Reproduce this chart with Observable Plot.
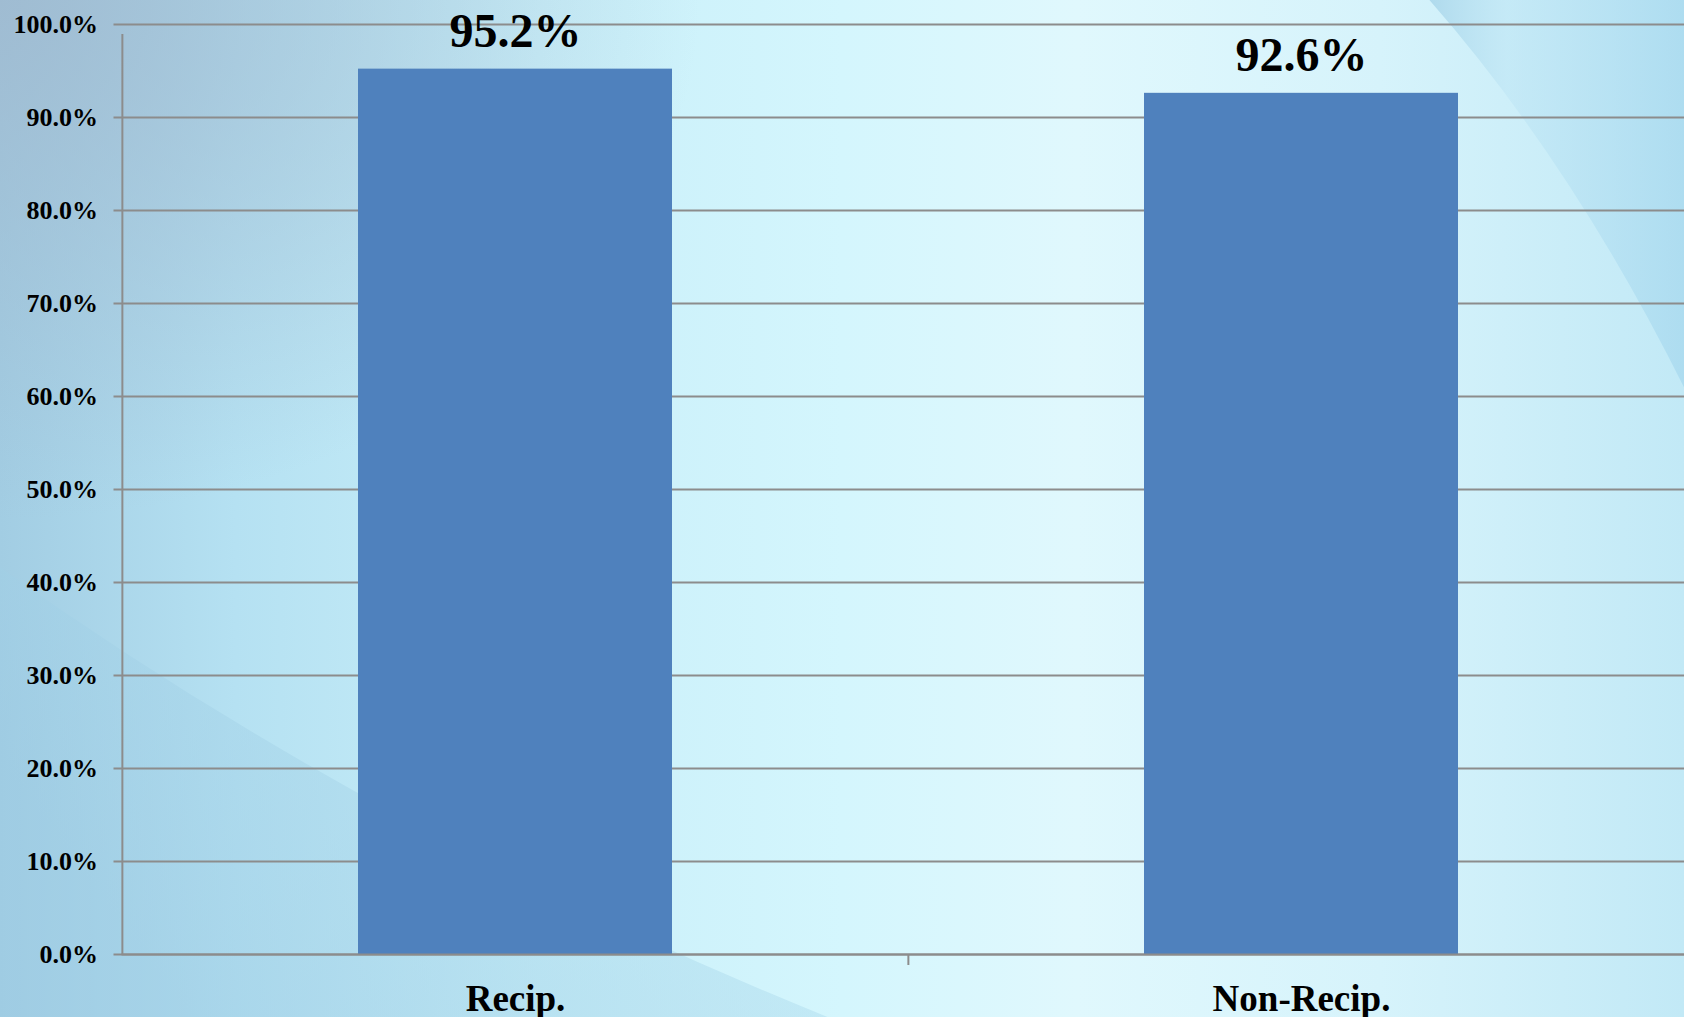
<!DOCTYPE html>
<html>
<head>
<meta charset="utf-8">
<script src="https://cdn.jsdelivr.net/npm/d3@7"></script>
<script src="https://cdn.jsdelivr.net/npm/@observablehq/plot@0.6"></script>
<style>
  html, body { margin: 0; padding: 0; width: 1684px; height: 1017px; overflow: hidden; }
  body {
    position: relative;
    background:
      linear-gradient(to right, #a2cde3 0%, #b5e1f2 14%, #c9eff9 32%, #d4f6fd 50%, #e0f8fd 64%, #d6f3fb 82%, #c2e9f6 100%);
  }
  #bg { position: absolute; left: 0; top: 0; }
  #chart { position: absolute; left: 0; top: 0; }
  #chart svg { background: transparent; overflow: hidden; font-family: "Liberation Serif", "Times New Roman", serif; }
  #chart g[aria-label="y-axis tick label"] text { font-size: 26px; font-weight: bold; fill: #000; }
  #chart g[aria-label="x-axis tick label"] text { font-size: 37px; font-weight: bold; fill: #000; }
</style>
</head>
<body>
<svg id="bg" width="1684" height="1017">
  <defs>
    <radialGradient id="tl" cx="0" cy="0" r="1" gradientUnits="objectBoundingBox">
      <stop offset="0" stop-color="#9fb9cf" stop-opacity="0.85"/>
      <stop offset="1" stop-color="#9fb9cf" stop-opacity="0"/>
    </radialGradient>
    <linearGradient id="tr" x1="0" y1="0" x2="1" y2="0">
      <stop offset="0" stop-color="#a9d6ea" stop-opacity="0.9"/>
      <stop offset="0.3" stop-color="#bfe6f5" stop-opacity="0.6"/>
      <stop offset="1" stop-color="#a6d8ee" stop-opacity="0.8"/>
    </linearGradient>
    <linearGradient id="bl" x1="1" y1="0" x2="0" y2="0.4">
      <stop offset="0" stop-color="#a0cfe6" stop-opacity="0.9"/>
      <stop offset="0.25" stop-color="#b4e0f0" stop-opacity="0.5"/>
      <stop offset="1" stop-color="#9ccbe3" stop-opacity="0.5"/>
    </linearGradient>
  </defs>
  <rect x="0" y="0" width="700" height="520" fill="url(#tl)"/>
  <path d="M1425,-5 Q1580,170 1700,420 L1700,-5 Z" fill="url(#tr)"/>
  <path d="M-10,560 Q380,840 860,1030 L-10,1030 Z" fill="url(#bl)"/>
</svg>
<div id="chart"></div>
<script>
const categories = ["Recip.", "Non-Recip."];
const values = [95.2, 92.6];
const labels = ["95.2%", "92.6%"];
const yTicks = [0, 10, 20, 30, 40, 50, 60, 70, 80, 90, 100];

const data = categories.map((c, i) => ({category: c, value: values[i], label: labels[i]}));

const width = 1684, height = 1017;
const marginLeft = 121.5, marginRight = -10, marginTop = 24, marginBottom = 63;
const step = (width - marginLeft - marginRight) / categories.length;
const gridColor = "#8c8c8c";

const chart = Plot.plot({
  width, height, marginLeft, marginRight, marginTop, marginBottom,
  style: {background: "transparent"},
  x: {domain: categories, paddingInner: 0.6, paddingOuter: 0.3, label: null},
  y: {domain: [0, 100], label: null},
  marks: [
    Plot.ruleY(yTicks, {y: d => d, stroke: gridColor, strokeWidth: 2, insetLeft: -8}),
    Plot.barY(data, {x: "category", y: "value", fill: "#4f81bd"}),
    Plot.ruleX([categories[0]], {x: d => d, y1: 0, y2: 100, dx: -step / 2, stroke: gridColor, strokeWidth: 2, insetBottom: -10}),
    Plot.ruleX([categories[1]], {x: d => d, y1: 0, y2: 0, dx: -step / 2, stroke: gridColor, strokeWidth: 2, insetBottom: -11}),
    Plot.ruleY([0], {stroke: gridColor, strokeWidth: 2}),
    Plot.text(data, {x: "category", y: "value", text: "label", lineAnchor: "bottom", dy: -22,
      fontSize: 48, fontWeight: "bold", fill: "#000", fontFamily: "Liberation Serif, Times New Roman, serif"}),
    Plot.axisY({ticks: yTicks, tickFormat: d => d.toFixed(1) + "%", tickSize: 0, tickPadding: 24, label: null}),
    Plot.axisX({tickSize: 0, tickPadding: 30, label: null})
  ]
});
document.getElementById("chart").appendChild(chart);
</script>
</body>
</html>
